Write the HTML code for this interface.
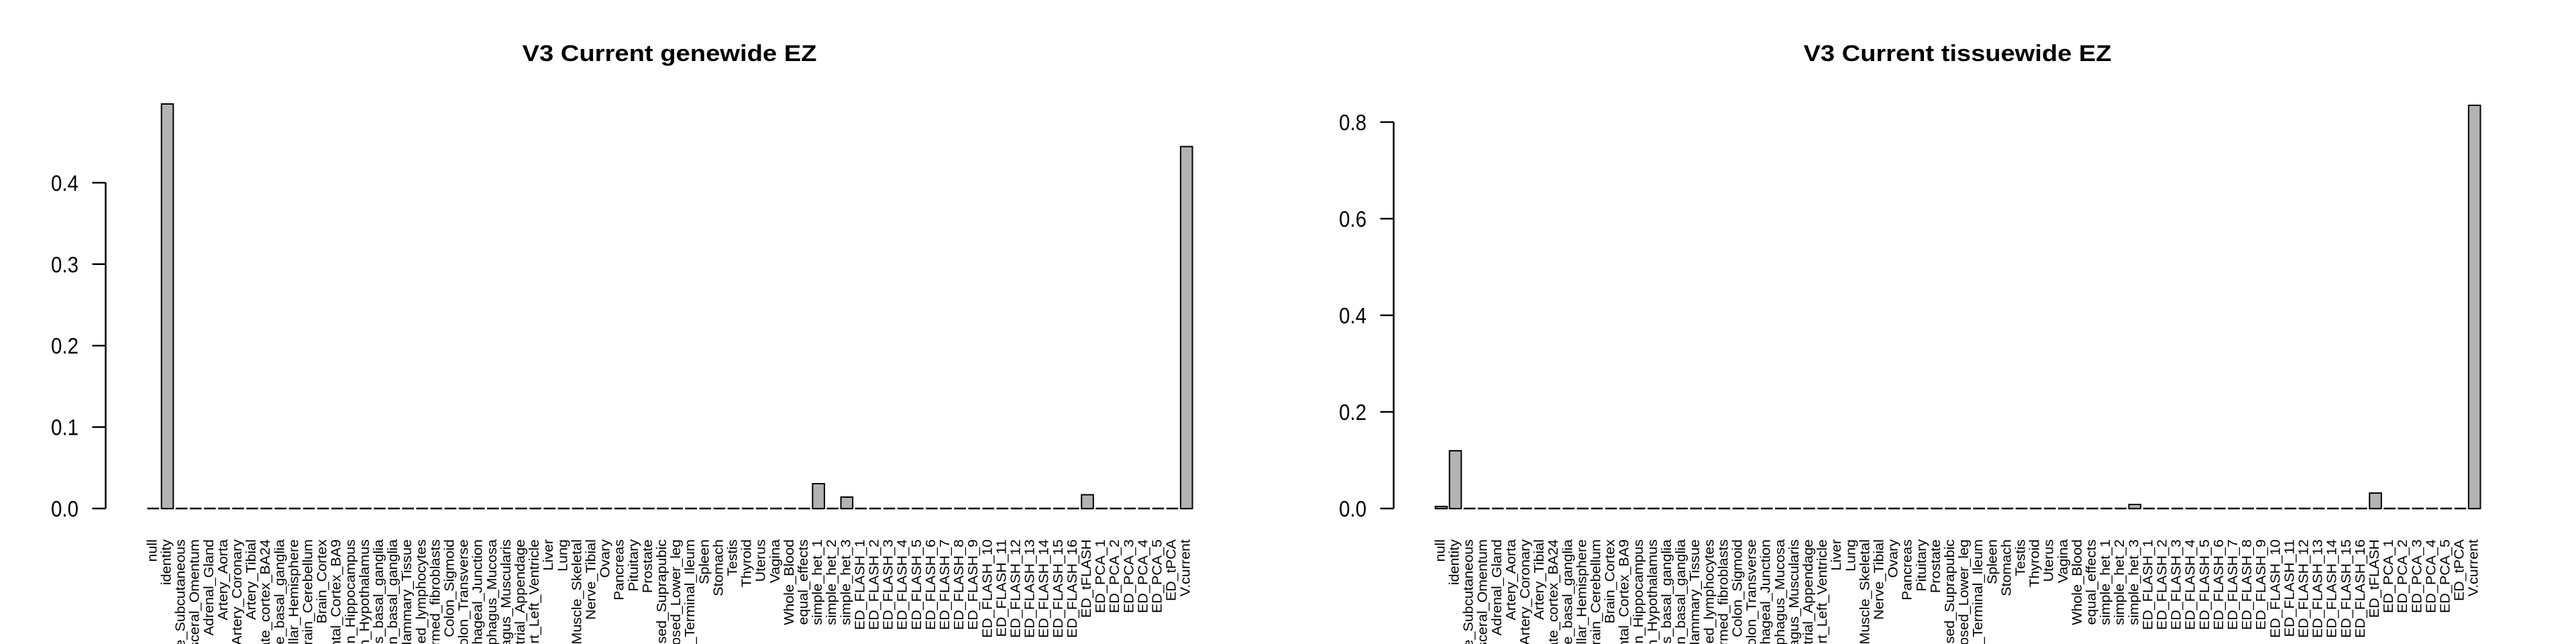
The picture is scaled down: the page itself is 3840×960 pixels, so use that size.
<!DOCTYPE html>
<html><head><meta charset="utf-8"><style>html,body{margin:0;padding:0;background:#fff;width:3840px;height:960px;overflow:hidden}svg{display:block}</style></head><body>
<svg width="3840" height="960" viewBox="0 0 3840 960" xmlns="http://www.w3.org/2000/svg" font-family="Liberation Sans, Arial, sans-serif" overflow="hidden">
<!-- LEFT PANEL -->
<g>
<text x="998" y="91" font-size="34" font-weight="bold" text-anchor="middle" textLength="439" lengthAdjust="spacingAndGlyphs">V3 Current genewide EZ</text>
<g stroke="#000" stroke-width="2.5" fill="none">
<line x1="157.5" y1="272.4" x2="157.5" y2="758"/>
<line x1="137.5" y1="758" x2="157.5" y2="758"/>
<line x1="137.5" y1="636.6" x2="157.5" y2="636.6"/>
<line x1="137.5" y1="515.2" x2="157.5" y2="515.2"/>
<line x1="137.5" y1="393.8" x2="157.5" y2="393.8"/>
<line x1="137.5" y1="272.4" x2="157.5" y2="272.4"/>
</g>
<g font-size="33.5" text-anchor="end">
<text x="117" y="770" textLength="41" lengthAdjust="spacingAndGlyphs">0.0</text>
<text x="117" y="648.6" textLength="41" lengthAdjust="spacingAndGlyphs">0.1</text>
<text x="117" y="527.2" textLength="41" lengthAdjust="spacingAndGlyphs">0.2</text>
<text x="117" y="405.8" textLength="41" lengthAdjust="spacingAndGlyphs">0.3</text>
<text x="117" y="284.4" textLength="41" lengthAdjust="spacingAndGlyphs">0.4</text>
</g>
<line x1="219.6" y1="758" x2="1778" y2="758" stroke="#000" stroke-width="2.5" stroke-dasharray="17.6 3.5"/>
<g fill="#b3b3b3" stroke="#000" stroke-width="2">
<rect x="240.7" y="155" width="17.6" height="603"/>
<rect x="1211.3" y="721" width="17.6" height="37"/>
<rect x="1253.5" y="741" width="17.6" height="17"/>
<rect x="1612.2" y="737.5" width="17.6" height="20.5"/>
<rect x="1759.9" y="218.5" width="17.6" height="539.5"/>
</g>
<g font-size="20.5" text-anchor="end">
<text transform="translate(233.4,804) rotate(-90) scale(1.05,1)">null</text>
<text transform="translate(254.5,804) rotate(-90) scale(1.05,1)">identity</text>
<text transform="translate(275.6,804) rotate(-90) scale(1.05,1)">Adipose_Subcutaneous</text>
<text transform="translate(296.7,804) rotate(-90) scale(1.05,1)">Adipose_Visceral_Omentum</text>
<text transform="translate(317.8,804) rotate(-90) scale(1.05,1)">Adrenal_Gland</text>
<text transform="translate(338.9,804) rotate(-90) scale(1.05,1)">Artery_Aorta</text>
<text transform="translate(360.0,804) rotate(-90) scale(1.05,1)">Artery_Coronary</text>
<text transform="translate(381.1,804) rotate(-90) scale(1.05,1)">Artery_Tibial</text>
<text transform="translate(402.2,804) rotate(-90) scale(1.05,1)">Brain_Anterior_cingulate_cortex_BA24</text>
<text transform="translate(423.3,804) rotate(-90) scale(1.05,1)">Brain_Caudate_basal_ganglia</text>
<text transform="translate(444.4,804) rotate(-90) scale(1.05,1)">Brain_Cerebellar_Hemisphere</text>
<text transform="translate(465.5,804) rotate(-90) scale(1.05,1)">Brain_Cerebellum</text>
<text transform="translate(486.6,804) rotate(-90) scale(1.05,1)">Brain_Cortex</text>
<text transform="translate(507.7,804) rotate(-90) scale(1.05,1)">Brain_Frontal_Cortex_BA9</text>
<text transform="translate(528.8,804) rotate(-90) scale(1.05,1)">Brain_Hippocampus</text>
<text transform="translate(549.9,804) rotate(-90) scale(1.05,1)">Brain_Hypothalamus</text>
<text transform="translate(571.0,804) rotate(-90) scale(1.05,1)">Brain_Nucleus_accumbens_basal_ganglia</text>
<text transform="translate(592.1,804) rotate(-90) scale(1.05,1)">Brain_Putamen_basal_ganglia</text>
<text transform="translate(613.2,804) rotate(-90) scale(1.05,1)">Breast_Mammary_Tissue</text>
<text transform="translate(634.3,804) rotate(-90) scale(1.05,1)">Cells_EBV-transformed_lymphocytes</text>
<text transform="translate(655.4,804) rotate(-90) scale(1.05,1)">Cells_Transformed_fibroblasts</text>
<text transform="translate(676.5,804) rotate(-90) scale(1.05,1)">Colon_Sigmoid</text>
<text transform="translate(697.6,804) rotate(-90) scale(1.05,1)">Colon_Transverse</text>
<text transform="translate(718.7,804) rotate(-90) scale(1.05,1)">Esophagus_Gastroesophageal_Junction</text>
<text transform="translate(739.8,804) rotate(-90) scale(1.05,1)">Esophagus_Mucosa</text>
<text transform="translate(760.9,804) rotate(-90) scale(1.05,1)">Esophagus_Muscularis</text>
<text transform="translate(782.0,804) rotate(-90) scale(1.05,1)">Heart_Atrial_Appendage</text>
<text transform="translate(803.1,804) rotate(-90) scale(1.05,1)">Heart_Left_Ventricle</text>
<text transform="translate(824.2,804) rotate(-90) scale(1.05,1)">Liver</text>
<text transform="translate(845.3,804) rotate(-90) scale(1.05,1)">Lung</text>
<text transform="translate(866.4,804) rotate(-90) scale(1.05,1)">Muscle_Skeletal</text>
<text transform="translate(887.5,804) rotate(-90) scale(1.05,1)">Nerve_Tibial</text>
<text transform="translate(908.6,804) rotate(-90) scale(1.05,1)">Ovary</text>
<text transform="translate(929.7,804) rotate(-90) scale(1.05,1)">Pancreas</text>
<text transform="translate(950.8,804) rotate(-90) scale(1.05,1)">Pituitary</text>
<text transform="translate(971.9,804) rotate(-90) scale(1.05,1)">Prostate</text>
<text transform="translate(993.0,804) rotate(-90) scale(1.05,1)">Skin_Not_Sun_Exposed_Suprapubic</text>
<text transform="translate(1014.1,804) rotate(-90) scale(1.05,1)">Skin_Sun_Exposed_Lower_leg</text>
<text transform="translate(1035.2,804) rotate(-90) scale(1.05,1)">Small_Intestine_Terminal_Ileum</text>
<text transform="translate(1056.3,804) rotate(-90) scale(1.05,1)">Spleen</text>
<text transform="translate(1077.4,804) rotate(-90) scale(1.05,1)">Stomach</text>
<text transform="translate(1098.5,804) rotate(-90) scale(1.05,1)">Testis</text>
<text transform="translate(1119.6,804) rotate(-90) scale(1.05,1)">Thyroid</text>
<text transform="translate(1140.7,804) rotate(-90) scale(1.05,1)">Uterus</text>
<text transform="translate(1161.8,804) rotate(-90) scale(1.05,1)">Vagina</text>
<text transform="translate(1182.9,804) rotate(-90) scale(1.05,1)">Whole_Blood</text>
<text transform="translate(1204.0,804) rotate(-90) scale(1.05,1)">equal_effects</text>
<text transform="translate(1225.1,804) rotate(-90) scale(1.05,1)">simple_het_1</text>
<text transform="translate(1246.2,804) rotate(-90) scale(1.05,1)">simple_het_2</text>
<text transform="translate(1267.3,804) rotate(-90) scale(1.05,1)">simple_het_3</text>
<text transform="translate(1288.4,804) rotate(-90) scale(1.05,1)">ED_FLASH_1</text>
<text transform="translate(1309.5,804) rotate(-90) scale(1.05,1)">ED_FLASH_2</text>
<text transform="translate(1330.6,804) rotate(-90) scale(1.05,1)">ED_FLASH_3</text>
<text transform="translate(1351.7,804) rotate(-90) scale(1.05,1)">ED_FLASH_4</text>
<text transform="translate(1372.8,804) rotate(-90) scale(1.05,1)">ED_FLASH_5</text>
<text transform="translate(1393.9,804) rotate(-90) scale(1.05,1)">ED_FLASH_6</text>
<text transform="translate(1415.0,804) rotate(-90) scale(1.05,1)">ED_FLASH_7</text>
<text transform="translate(1436.1,804) rotate(-90) scale(1.05,1)">ED_FLASH_8</text>
<text transform="translate(1457.2,804) rotate(-90) scale(1.05,1)">ED_FLASH_9</text>
<text transform="translate(1478.3,804) rotate(-90) scale(1.05,1)">ED_FLASH_10</text>
<text transform="translate(1499.4,804) rotate(-90) scale(1.05,1)">ED_FLASH_11</text>
<text transform="translate(1520.5,804) rotate(-90) scale(1.05,1)">ED_FLASH_12</text>
<text transform="translate(1541.6,804) rotate(-90) scale(1.05,1)">ED_FLASH_13</text>
<text transform="translate(1562.7,804) rotate(-90) scale(1.05,1)">ED_FLASH_14</text>
<text transform="translate(1583.8,804) rotate(-90) scale(1.05,1)">ED_FLASH_15</text>
<text transform="translate(1604.9,804) rotate(-90) scale(1.05,1)">ED_FLASH_16</text>
<text transform="translate(1626.0,804) rotate(-90) scale(1.05,1)">ED_tFLASH</text>
<text transform="translate(1647.1,804) rotate(-90) scale(1.05,1)">ED_PCA_1</text>
<text transform="translate(1668.2,804) rotate(-90) scale(1.05,1)">ED_PCA_2</text>
<text transform="translate(1689.3,804) rotate(-90) scale(1.05,1)">ED_PCA_3</text>
<text transform="translate(1710.4,804) rotate(-90) scale(1.05,1)">ED_PCA_4</text>
<text transform="translate(1731.5,804) rotate(-90) scale(1.05,1)">ED_PCA_5</text>
<text transform="translate(1752.6,804) rotate(-90) scale(1.05,1)">ED_tPCA</text>
<text transform="translate(1773.7,804) rotate(-90) scale(1.05,1)">V.current</text>
</g>
</g>
<!-- RIGHT PANEL -->
<g transform="translate(1920,0)">
<text x="998" y="91" font-size="34" font-weight="bold" text-anchor="middle" textLength="459" lengthAdjust="spacingAndGlyphs">V3 Current tissuewide EZ</text>
<g stroke="#000" stroke-width="2.5" fill="none">
<line x1="157.5" y1="182" x2="157.5" y2="758"/>
<line x1="137.5" y1="758" x2="157.5" y2="758"/>
<line x1="137.5" y1="614" x2="157.5" y2="614"/>
<line x1="137.5" y1="470" x2="157.5" y2="470"/>
<line x1="137.5" y1="326" x2="157.5" y2="326"/>
<line x1="137.5" y1="182" x2="157.5" y2="182"/>
</g>
<g font-size="33.5" text-anchor="end">
<text x="117" y="770" textLength="41" lengthAdjust="spacingAndGlyphs">0.0</text>
<text x="117" y="626" textLength="41" lengthAdjust="spacingAndGlyphs">0.2</text>
<text x="117" y="482" textLength="41" lengthAdjust="spacingAndGlyphs">0.4</text>
<text x="117" y="338" textLength="41" lengthAdjust="spacingAndGlyphs">0.6</text>
<text x="117" y="194" textLength="41" lengthAdjust="spacingAndGlyphs">0.8</text>
</g>
<line x1="219.6" y1="758" x2="1778" y2="758" stroke="#000" stroke-width="2.5" stroke-dasharray="17.6 3.5"/>
<g fill="#b3b3b3" stroke="#000" stroke-width="2">
<rect x="219.6" y="755" width="17.6" height="3"/>
<rect x="240.7" y="672" width="17.6" height="86"/>
<rect x="1253.5" y="752" width="17.6" height="6"/>
<rect x="1612.2" y="735" width="17.6" height="23"/>
<rect x="1759.9" y="157" width="17.6" height="601"/>
</g>
<g font-size="20.5" text-anchor="end">
<text transform="translate(233.4,804) rotate(-90) scale(1.05,1)">null</text>
<text transform="translate(254.5,804) rotate(-90) scale(1.05,1)">identity</text>
<text transform="translate(275.6,804) rotate(-90) scale(1.05,1)">Adipose_Subcutaneous</text>
<text transform="translate(296.7,804) rotate(-90) scale(1.05,1)">Adipose_Visceral_Omentum</text>
<text transform="translate(317.8,804) rotate(-90) scale(1.05,1)">Adrenal_Gland</text>
<text transform="translate(338.9,804) rotate(-90) scale(1.05,1)">Artery_Aorta</text>
<text transform="translate(360.0,804) rotate(-90) scale(1.05,1)">Artery_Coronary</text>
<text transform="translate(381.1,804) rotate(-90) scale(1.05,1)">Artery_Tibial</text>
<text transform="translate(402.2,804) rotate(-90) scale(1.05,1)">Brain_Anterior_cingulate_cortex_BA24</text>
<text transform="translate(423.3,804) rotate(-90) scale(1.05,1)">Brain_Caudate_basal_ganglia</text>
<text transform="translate(444.4,804) rotate(-90) scale(1.05,1)">Brain_Cerebellar_Hemisphere</text>
<text transform="translate(465.5,804) rotate(-90) scale(1.05,1)">Brain_Cerebellum</text>
<text transform="translate(486.6,804) rotate(-90) scale(1.05,1)">Brain_Cortex</text>
<text transform="translate(507.7,804) rotate(-90) scale(1.05,1)">Brain_Frontal_Cortex_BA9</text>
<text transform="translate(528.8,804) rotate(-90) scale(1.05,1)">Brain_Hippocampus</text>
<text transform="translate(549.9,804) rotate(-90) scale(1.05,1)">Brain_Hypothalamus</text>
<text transform="translate(571.0,804) rotate(-90) scale(1.05,1)">Brain_Nucleus_accumbens_basal_ganglia</text>
<text transform="translate(592.1,804) rotate(-90) scale(1.05,1)">Brain_Putamen_basal_ganglia</text>
<text transform="translate(613.2,804) rotate(-90) scale(1.05,1)">Breast_Mammary_Tissue</text>
<text transform="translate(634.3,804) rotate(-90) scale(1.05,1)">Cells_EBV-transformed_lymphocytes</text>
<text transform="translate(655.4,804) rotate(-90) scale(1.05,1)">Cells_Transformed_fibroblasts</text>
<text transform="translate(676.5,804) rotate(-90) scale(1.05,1)">Colon_Sigmoid</text>
<text transform="translate(697.6,804) rotate(-90) scale(1.05,1)">Colon_Transverse</text>
<text transform="translate(718.7,804) rotate(-90) scale(1.05,1)">Esophagus_Gastroesophageal_Junction</text>
<text transform="translate(739.8,804) rotate(-90) scale(1.05,1)">Esophagus_Mucosa</text>
<text transform="translate(760.9,804) rotate(-90) scale(1.05,1)">Esophagus_Muscularis</text>
<text transform="translate(782.0,804) rotate(-90) scale(1.05,1)">Heart_Atrial_Appendage</text>
<text transform="translate(803.1,804) rotate(-90) scale(1.05,1)">Heart_Left_Ventricle</text>
<text transform="translate(824.2,804) rotate(-90) scale(1.05,1)">Liver</text>
<text transform="translate(845.3,804) rotate(-90) scale(1.05,1)">Lung</text>
<text transform="translate(866.4,804) rotate(-90) scale(1.05,1)">Muscle_Skeletal</text>
<text transform="translate(887.5,804) rotate(-90) scale(1.05,1)">Nerve_Tibial</text>
<text transform="translate(908.6,804) rotate(-90) scale(1.05,1)">Ovary</text>
<text transform="translate(929.7,804) rotate(-90) scale(1.05,1)">Pancreas</text>
<text transform="translate(950.8,804) rotate(-90) scale(1.05,1)">Pituitary</text>
<text transform="translate(971.9,804) rotate(-90) scale(1.05,1)">Prostate</text>
<text transform="translate(993.0,804) rotate(-90) scale(1.05,1)">Skin_Not_Sun_Exposed_Suprapubic</text>
<text transform="translate(1014.1,804) rotate(-90) scale(1.05,1)">Skin_Sun_Exposed_Lower_leg</text>
<text transform="translate(1035.2,804) rotate(-90) scale(1.05,1)">Small_Intestine_Terminal_Ileum</text>
<text transform="translate(1056.3,804) rotate(-90) scale(1.05,1)">Spleen</text>
<text transform="translate(1077.4,804) rotate(-90) scale(1.05,1)">Stomach</text>
<text transform="translate(1098.5,804) rotate(-90) scale(1.05,1)">Testis</text>
<text transform="translate(1119.6,804) rotate(-90) scale(1.05,1)">Thyroid</text>
<text transform="translate(1140.7,804) rotate(-90) scale(1.05,1)">Uterus</text>
<text transform="translate(1161.8,804) rotate(-90) scale(1.05,1)">Vagina</text>
<text transform="translate(1182.9,804) rotate(-90) scale(1.05,1)">Whole_Blood</text>
<text transform="translate(1204.0,804) rotate(-90) scale(1.05,1)">equal_effects</text>
<text transform="translate(1225.1,804) rotate(-90) scale(1.05,1)">simple_het_1</text>
<text transform="translate(1246.2,804) rotate(-90) scale(1.05,1)">simple_het_2</text>
<text transform="translate(1267.3,804) rotate(-90) scale(1.05,1)">simple_het_3</text>
<text transform="translate(1288.4,804) rotate(-90) scale(1.05,1)">ED_FLASH_1</text>
<text transform="translate(1309.5,804) rotate(-90) scale(1.05,1)">ED_FLASH_2</text>
<text transform="translate(1330.6,804) rotate(-90) scale(1.05,1)">ED_FLASH_3</text>
<text transform="translate(1351.7,804) rotate(-90) scale(1.05,1)">ED_FLASH_4</text>
<text transform="translate(1372.8,804) rotate(-90) scale(1.05,1)">ED_FLASH_5</text>
<text transform="translate(1393.9,804) rotate(-90) scale(1.05,1)">ED_FLASH_6</text>
<text transform="translate(1415.0,804) rotate(-90) scale(1.05,1)">ED_FLASH_7</text>
<text transform="translate(1436.1,804) rotate(-90) scale(1.05,1)">ED_FLASH_8</text>
<text transform="translate(1457.2,804) rotate(-90) scale(1.05,1)">ED_FLASH_9</text>
<text transform="translate(1478.3,804) rotate(-90) scale(1.05,1)">ED_FLASH_10</text>
<text transform="translate(1499.4,804) rotate(-90) scale(1.05,1)">ED_FLASH_11</text>
<text transform="translate(1520.5,804) rotate(-90) scale(1.05,1)">ED_FLASH_12</text>
<text transform="translate(1541.6,804) rotate(-90) scale(1.05,1)">ED_FLASH_13</text>
<text transform="translate(1562.7,804) rotate(-90) scale(1.05,1)">ED_FLASH_14</text>
<text transform="translate(1583.8,804) rotate(-90) scale(1.05,1)">ED_FLASH_15</text>
<text transform="translate(1604.9,804) rotate(-90) scale(1.05,1)">ED_FLASH_16</text>
<text transform="translate(1626.0,804) rotate(-90) scale(1.05,1)">ED_tFLASH</text>
<text transform="translate(1647.1,804) rotate(-90) scale(1.05,1)">ED_PCA_1</text>
<text transform="translate(1668.2,804) rotate(-90) scale(1.05,1)">ED_PCA_2</text>
<text transform="translate(1689.3,804) rotate(-90) scale(1.05,1)">ED_PCA_3</text>
<text transform="translate(1710.4,804) rotate(-90) scale(1.05,1)">ED_PCA_4</text>
<text transform="translate(1731.5,804) rotate(-90) scale(1.05,1)">ED_PCA_5</text>
<text transform="translate(1752.6,804) rotate(-90) scale(1.05,1)">ED_tPCA</text>
<text transform="translate(1773.7,804) rotate(-90) scale(1.05,1)">V.current</text>
</g>
</g>
</svg>
</body></html>
